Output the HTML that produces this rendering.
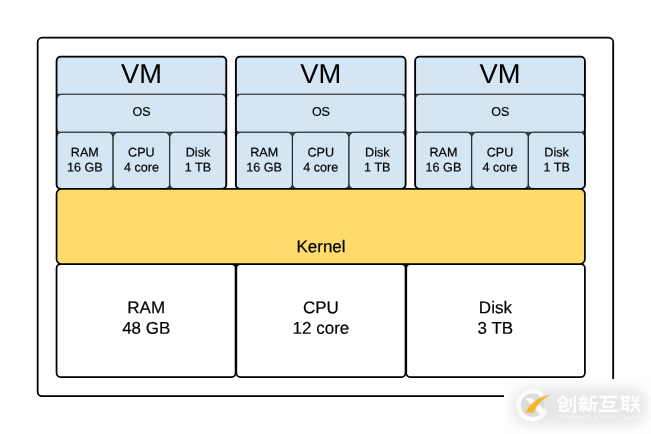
<!DOCTYPE html>
<html><head><meta charset="utf-8"><title>VM diagram</title>
<style>
html,body{margin:0;padding:0;background:#fff;}
body{width:651px;height:434px;overflow:hidden;position:relative;font-family:"Liberation Sans",sans-serif;-webkit-font-smoothing:antialiased;}
svg{position:absolute;left:0;top:0;display:block;will-change:transform;}
svg text{font-family:"Liberation Sans",sans-serif;fill:#000;stroke:#000;stroke-width:0.2px;text-rendering:geometricPrecision;}
</style></head>
<body>
<svg width="651" height="434" viewBox="0 0 651 434">
<rect x="37.65" y="37.70" width="575.55" height="358.50" rx="4.5" ry="4.5" fill="#fff" stroke="#000" stroke-width="1.8"/>
<rect x="56.55" y="56.60" width="169.75" height="132.35" rx="5" ry="5" fill="#4a5560" stroke="none" stroke-width="0"/>
<path d="M61.55,56.60 H221.30 A5,5 0 0 1 226.30,61.60 V94.30 H56.55 V61.60 A5,5 0 0 1 61.55,56.60 Z" fill="#d4e6f4" stroke="#2a2a2a" stroke-width="0.95"/>
<path d="M62.05,94.30 H220.80 A5.5,5.5 0 0 1 226.30,99.80 V128.30 A4,4 0 0 1 222.30,132.30 H60.55 A4,4 0 0 1 56.55,128.30 V99.80 A5.5,5.5 0 0 1 62.05,94.30 Z" fill="#d4e6f4" stroke="#2a2a2a" stroke-width="0.95"/>
<rect x="56.55" y="132.30" width="56.58" height="56.65" rx="5" ry="5" fill="#d4e6f4" stroke="#202020" stroke-width="1.05"/>
<text transform="translate(84.84,156.40) rotate(0.04)" font-size="12.6" text-anchor="middle">RAM</text>
<text transform="translate(84.84,171.40) rotate(0.04)" font-size="12.6" text-anchor="middle">16 GB</text>
<rect x="113.13" y="132.30" width="56.58" height="56.65" rx="5" ry="5" fill="#d4e6f4" stroke="#202020" stroke-width="1.05"/>
<text transform="translate(141.42,156.40) rotate(0.04)" font-size="12.6" text-anchor="middle">CPU</text>
<text transform="translate(141.42,171.40) rotate(0.04)" font-size="12.6" text-anchor="middle">4 core</text>
<rect x="169.72" y="132.30" width="56.58" height="56.65" rx="5" ry="5" fill="#d4e6f4" stroke="#202020" stroke-width="1.05"/>
<text transform="translate(198.01,156.40) rotate(0.04)" font-size="12.6" text-anchor="middle">Disk</text>
<text transform="translate(198.01,171.40) rotate(0.04)" font-size="12.6" text-anchor="middle">1 TB</text>
<rect x="56.55" y="56.60" width="169.75" height="132.35" rx="4.2" ry="4.2" fill="none" stroke="#000" stroke-width="1.8"/>
<text transform="translate(141.43,82.90) rotate(0.04)" font-size="27.3" text-anchor="middle" style="stroke-width:0.05px">VM</text>
<text transform="translate(141.62,115.70) rotate(0.04)" font-size="12.5" text-anchor="middle">OS</text>
<rect x="235.85" y="56.60" width="169.75" height="132.35" rx="5" ry="5" fill="#4a5560" stroke="none" stroke-width="0"/>
<path d="M240.85,56.60 H400.60 A5,5 0 0 1 405.60,61.60 V94.30 H235.85 V61.60 A5,5 0 0 1 240.85,56.60 Z" fill="#d4e6f4" stroke="#2a2a2a" stroke-width="0.95"/>
<path d="M241.35,94.30 H400.10 A5.5,5.5 0 0 1 405.60,99.80 V128.30 A4,4 0 0 1 401.60,132.30 H239.85 A4,4 0 0 1 235.85,128.30 V99.80 A5.5,5.5 0 0 1 241.35,94.30 Z" fill="#d4e6f4" stroke="#2a2a2a" stroke-width="0.95"/>
<rect x="235.85" y="132.30" width="56.58" height="56.65" rx="5" ry="5" fill="#d4e6f4" stroke="#202020" stroke-width="1.05"/>
<text transform="translate(264.14,156.40) rotate(0.04)" font-size="12.6" text-anchor="middle">RAM</text>
<text transform="translate(264.14,171.40) rotate(0.04)" font-size="12.6" text-anchor="middle">16 GB</text>
<rect x="292.43" y="132.30" width="56.58" height="56.65" rx="5" ry="5" fill="#d4e6f4" stroke="#202020" stroke-width="1.05"/>
<text transform="translate(320.73,156.40) rotate(0.04)" font-size="12.6" text-anchor="middle">CPU</text>
<text transform="translate(320.73,171.40) rotate(0.04)" font-size="12.6" text-anchor="middle">4 core</text>
<rect x="349.02" y="132.30" width="56.58" height="56.65" rx="5" ry="5" fill="#d4e6f4" stroke="#202020" stroke-width="1.05"/>
<text transform="translate(377.31,156.40) rotate(0.04)" font-size="12.6" text-anchor="middle">Disk</text>
<text transform="translate(377.31,171.40) rotate(0.04)" font-size="12.6" text-anchor="middle">1 TB</text>
<rect x="235.85" y="56.60" width="169.75" height="132.35" rx="4.2" ry="4.2" fill="none" stroke="#000" stroke-width="1.8"/>
<text transform="translate(320.73,82.90) rotate(0.04)" font-size="27.3" text-anchor="middle" style="stroke-width:0.05px">VM</text>
<text transform="translate(320.93,115.70) rotate(0.04)" font-size="12.5" text-anchor="middle">OS</text>
<rect x="415.15" y="56.60" width="169.75" height="132.35" rx="5" ry="5" fill="#4a5560" stroke="none" stroke-width="0"/>
<path d="M420.15,56.60 H579.90 A5,5 0 0 1 584.90,61.60 V94.30 H415.15 V61.60 A5,5 0 0 1 420.15,56.60 Z" fill="#d4e6f4" stroke="#2a2a2a" stroke-width="0.95"/>
<path d="M420.65,94.30 H579.40 A5.5,5.5 0 0 1 584.90,99.80 V128.30 A4,4 0 0 1 580.90,132.30 H419.15 A4,4 0 0 1 415.15,128.30 V99.80 A5.5,5.5 0 0 1 420.65,94.30 Z" fill="#d4e6f4" stroke="#2a2a2a" stroke-width="0.95"/>
<rect x="415.15" y="132.30" width="56.58" height="56.65" rx="5" ry="5" fill="#d4e6f4" stroke="#202020" stroke-width="1.05"/>
<text transform="translate(443.44,156.40) rotate(0.04)" font-size="12.6" text-anchor="middle">RAM</text>
<text transform="translate(443.44,171.40) rotate(0.04)" font-size="12.6" text-anchor="middle">16 GB</text>
<rect x="471.73" y="132.30" width="56.58" height="56.65" rx="5" ry="5" fill="#d4e6f4" stroke="#202020" stroke-width="1.05"/>
<text transform="translate(500.03,156.40) rotate(0.04)" font-size="12.6" text-anchor="middle">CPU</text>
<text transform="translate(500.03,171.40) rotate(0.04)" font-size="12.6" text-anchor="middle">4 core</text>
<rect x="528.32" y="132.30" width="56.58" height="56.65" rx="5" ry="5" fill="#d4e6f4" stroke="#202020" stroke-width="1.05"/>
<text transform="translate(556.61,156.40) rotate(0.04)" font-size="12.6" text-anchor="middle">Disk</text>
<text transform="translate(556.61,171.40) rotate(0.04)" font-size="12.6" text-anchor="middle">1 TB</text>
<rect x="415.15" y="56.60" width="169.75" height="132.35" rx="4.2" ry="4.2" fill="none" stroke="#000" stroke-width="1.8"/>
<text transform="translate(500.03,82.90) rotate(0.04)" font-size="27.3" text-anchor="middle" style="stroke-width:0.05px">VM</text>
<text transform="translate(500.23,115.70) rotate(0.04)" font-size="12.5" text-anchor="middle">OS</text>
<rect x="230" y="264.15" width="12" height="3" fill="#222"/>
<rect x="400" y="264.15" width="12" height="3" fill="#222"/>
<rect x="56.55" y="264.15" width="179.05" height="112.85" rx="4" ry="4" fill="#fff" stroke="#000" stroke-width="1.75"/>
<rect x="236.30" y="264.15" width="169.25" height="112.85" rx="4" ry="4" fill="#fff" stroke="#000" stroke-width="1.75"/>
<rect x="406.25" y="264.15" width="178.65" height="112.85" rx="4" ry="4" fill="#fff" stroke="#000" stroke-width="1.75"/>
<text transform="translate(146.23,313.20) rotate(0.04)" font-size="17" text-anchor="middle">RAM</text>
<text transform="translate(146.23,333.80) rotate(0.04)" font-size="17" text-anchor="middle">48 GB</text>
<text transform="translate(320.90,313.20) rotate(0.04)" font-size="17" text-anchor="middle">CPU</text>
<text transform="translate(320.90,333.80) rotate(0.04)" font-size="17" text-anchor="middle">12 core</text>
<text transform="translate(495.40,313.20) rotate(0.04)" font-size="17" text-anchor="middle">Disk</text>
<text transform="translate(495.40,333.80) rotate(0.04)" font-size="17" text-anchor="middle">3 TB</text>
<rect x="56.55" y="188.95" width="528.35" height="75.20" rx="5" ry="5" fill="#fedb6c" stroke="#000" stroke-width="1.7"/>
<text transform="translate(321.00,252.20) rotate(0.04)" font-size="17" text-anchor="middle">Kernel</text>
<defs>
<filter id="wmblur" x="-30%" y="-60%" width="160%" height="220%"><feGaussianBlur stdDeviation="5.5"/></filter>
<filter id="soft" x="-10%" y="-10%" width="120%" height="120%"><feGaussianBlur stdDeviation="0.35"/></filter>
<clipPath id="wmclip"><rect x="504" y="379" width="147" height="55"/></clipPath>
</defs>
<g clip-path="url(#wmclip)">
<rect x="504" y="379" width="147" height="55" fill="#fefefe"/>
<rect x="512" y="388" width="135" height="37" rx="17" ry="17" fill="#e7e7e7" filter="url(#wmblur)"/>
<g filter="url(#soft)">
<!-- logo -->
<circle cx="532.4" cy="405.3" r="12" fill="#dbdbdb"/>
<path d="M542.4,395.3 A14,14 0 1 0 543.6,413.8" fill="none" stroke="#fcfcfc" stroke-width="4.6"/>
<path d="M525,398 L532,398 L546.2,411.2 L548,413.4 L539,413.4 Z" fill="#fbfbfb"/>
<path d="M525.6,412.5 C529,404 538,397 551.4,394.5 C542.5,399 537,404 534.0,412.6 Z" fill="#f5b52e"/>
<!-- CJK glyphs drawn as strokes, white -->
<g fill="none" stroke="#fdfdfd" stroke-width="2.5" stroke-linecap="butt" stroke-linejoin="miter">
 <!-- chuang -->
 <g transform="translate(557.2,395.6) scale(0.95,0.93)">
  <path d="M6,0 L0.3,7.2 M6,0.5 L12,6.5 M3.2,7.5 L9.5,7.5 L9.5,11.5 L3.2,11.5 M3.2,6.6 L3.2,16.3 L11.5,16.3 L11.5,13.5 M14.3,3 L14.3,12.5 M18.6,0 L18.6,17.3 L15.5,17.3"/>
 </g>
 <!-- xin -->
 <g transform="translate(578.3,395.6) scale(0.95,0.93)">
  <path d="M5.5,-0.3 L5.5,2.5 M0.8,3.2 L10.3,3.2 M2.8,4.2 L3.8,7.4 M8.3,4.2 L7.3,7.4 M0,8 L11,8 M0.8,11.7 L10.3,11.7 M5.5,8 L5.5,17.6 M5.2,12 L0.5,16.2 M5.8,12 L10.5,15.8 M19.3,0.6 L13.3,2.6 L13.3,10 L11.6,17.5 M13.3,8 L20.3,8 M17.2,8 L17.2,17.6"/>
 </g>
 <!-- hu -->
 <g transform="translate(598.6,395.9) scale(1.0,0.915)">
  <path d="M0.8,1.2 L19.2,1.2 M0,16.4 L20,16.4 M7.8,1.2 L5.4,6.8 L15.4,6.8 L13.6,12 M4.4,12 L14.6,12 M5.4,6.8 L4.2,12"/>
 </g>
 <!-- lian -->
 <g transform="translate(620.8,395.9) scale(0.95,0.915)">
  <path d="M0,1.2 L9.4,1.2 M2.2,1.2 L2.2,14.3 M7.2,1.2 L7.2,17.6 M2.2,5.6 L7.2,5.6 M2.2,9.8 L7.2,9.8 M0,14.8 L9.4,13.2 M12.2,-0.2 L13.6,3.4 M18.8,-0.2 L17,3.4 M11,5 L20,5 M10.4,9.8 L20.4,9.8 M15.4,5 L15.4,10 L10.6,17.4 M15.4,10 L20.2,17.4"/>
 </g>
</g>
<text x="598.7" y="418.5" font-size="5.6" text-anchor="middle" textLength="85.5" lengthAdjust="spacingAndGlyphs" style="fill:#f8f8f8;stroke:none">CHUANG XIN HU LIAN</text>
</g>
</g>

</svg>
</body></html>
